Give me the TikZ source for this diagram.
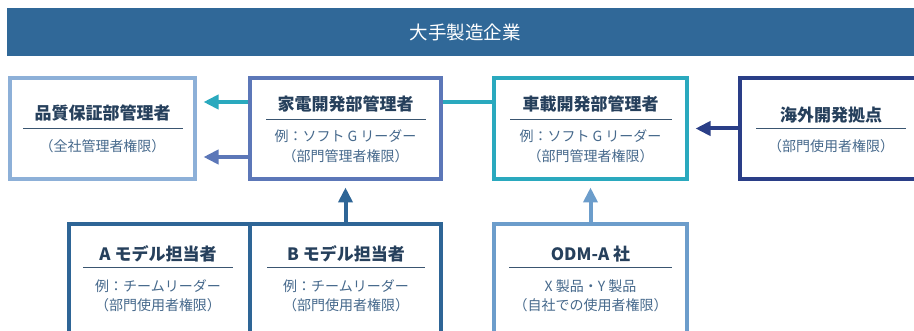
\documentclass[tikz,border=0pt]{standalone}
\usepackage{fontspec}
\setmainfont{Noto Sans CJK JP}
\usetikzlibrary{arrows.meta}
\definecolor{barc}{HTML}{306898}
\definecolor{qac}{HTML}{8DB0D8}
\definecolor{homec}{HTML}{5C77B8}
\definecolor{carc}{HTML}{2AA9BE}
\definecolor{ovc}{HTML}{2A3E87}
\definecolor{abc}{HTML}{2E6596}
\definecolor{odmc}{HTML}{6C9DCB}
\definecolor{titc}{HTML}{26405C}
\definecolor{subc}{HTML}{46698C}
\definecolor{divc}{HTML}{3A5570}
\tikzset{
  box/.style={draw, line width=4pt, fill=white, rectangle, inner sep=0pt},
  ttl/.style={text=titc, font=\fontsize{17}{18}\selectfont\bfseries, inner sep=0pt},
  sub/.style={text=subc, font=\fontsize{14}{15}\selectfont, inner sep=0pt},
  divl/.style={draw=divc, line width=1pt},
  conn/.style={line width=4pt},
  arr/.style={line width=4pt, -{Triangle[length=15pt,width=14pt]}, shorten >=6.5pt},
}
\begin{document}
\begin{tikzpicture}[x=1pt,y=-1pt]
\clip (0,0) rectangle (914,331);
\useasboundingbox (0,0) rectangle (914,331);
\fill[white] (0,0) rectangle (914,331);
% title bar
\node[fill=barc, minimum width=914pt, minimum height=48pt, inner sep=0pt] (bar) at (464,32.5) {};
\node[text=white, font=\fontsize{18.5}{20}\selectfont, inner sep=0pt] (bart) at (465,32) {大手製造企業};
% top boxes
\node[box, draw=qac, minimum width=185pt, minimum height=101pt] (qa) at (102.5,128.5) {};
\node[box, draw=homec, minimum width=191pt, minimum height=101pt] (home) at (345.5,128.5) {};
\node[box, draw=carc, minimum width=193pt, minimum height=101pt] (car) at (590.5,128.5) {};
\node[box, draw=ovc, minimum width=182pt, minimum height=101pt] (ov) at (831,128.5) {};
% bottom boxes
\node[box, draw=odmc, minimum width=193pt, minimum height=130pt] (odm) at (590.5,289) {};
\node[box, draw=abc, minimum width=181pt, minimum height=130pt] (ma) at (159.5,289) {};
\node[box, draw=abc, minimum width=191pt, minimum height=130pt] (mb) at (345.5,289) {};
% texts: QA
\node[ttl] (qat) at (102.5,113) {品質保証部管理者};
\coordinate (qad1) at (23,129); \coordinate (qad2) at (183,129);
\draw[divl] (qad1) -- (qad2);
\node[sub] (qas) at (102.5,146) {（全社管理者権限）};
% home
\node[ttl] (homet) at (345.5,104) {家電開発部管理者};
\coordinate (hd1) at (266,120); \coordinate (hd2) at (426,120);
\draw[divl] (hd1) -- (hd2);
\node[sub] (homes1) at (345.5,136.5) {例：ソフト G リーダー};
\node[sub] (homes2) at (345.5,156) {（部門管理者権限）};
% car
\node[ttl] (cart) at (590.5,104) {車載開発部管理者};
\coordinate (cd1) at (510,119.5); \coordinate (cd2) at (672,119.5);
\draw[divl] (cd1) -- (cd2);
\node[sub] (cars1) at (590.5,136.5) {例：ソフト G リーダー};
\node[sub] (cars2) at (590.5,156) {（部門管理者権限）};
% overseas
\node[ttl] (ovt) at (831,115) {海外開発拠点};
\coordinate (od1) at (756,129); \coordinate (od2) at (906,129);
\draw[divl] (od1) -- (od2);
\node[sub] (ovs) at (831,146) {（部門使用者権限）};
% A model
\node[ttl] (mat) at (158,254) {A モデル担当者};
\coordinate (ad1) at (83,268); \coordinate (ad2) at (233,268);
\draw[divl] (ad1) -- (ad2);
\node[sub] (mas1) at (158,286) {例：チームリーダー};
\node[sub] (mas2) at (158,305) {（部門使用者権限）};
% B model
\node[ttl] (mbt) at (346,254) {B モデル担当者};
\coordinate (bd1) at (267,268); \coordinate (bd2) at (425,268);
\draw[divl] (bd1) -- (bd2);
\node[sub] (mbs1) at (346,286) {例：チームリーダー};
\node[sub] (mbs2) at (346,305) {（部門使用者権限）};
% ODM
\node[ttl] (odmt) at (590.5,254) {ODM-A 社};
\coordinate (odd1) at (509,268); \coordinate (odd2) at (672,268);
\draw[divl] (odd1) -- (odd2);
\node[sub] (odms1) at (590.5,286) {X 製品・Y 製品};
\node[sub] (odms2) at (590.5,305) {（自社での使用者権限）};
% connectors
\draw[conn, draw=carc] ([yshift=26.5pt]home.east) -- ([yshift=26.5pt]car.west);
\draw[arr, draw=carc, fill=carc] ([yshift=26.5pt]home.west) -- ([yshift=26.5pt]qa.east);
\draw[arr, draw=homec, fill=homec] ([yshift=-28.5pt]home.west) -- ([yshift=-28.5pt]qa.east);
\draw[arr, draw=ovc, fill=ovc] (ov.west) -- (car.east);
\draw[arr, draw=abc, fill=abc] (mb.north) -- (home.south);
\draw[arr, draw=odmc, fill=odmc] (odm.north) -- (car.south);
\end{tikzpicture}
\end{document}
